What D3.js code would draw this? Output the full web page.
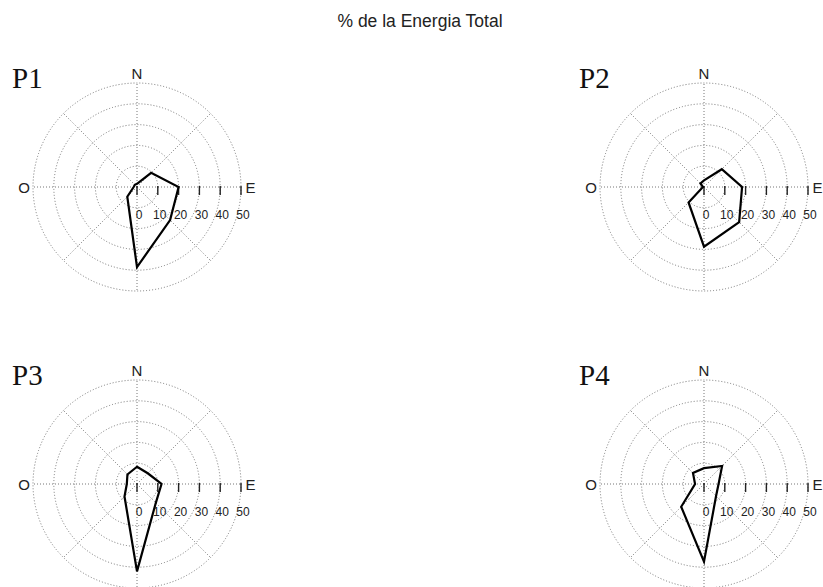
<!DOCTYPE html>
<html>
<head>
<meta charset="utf-8">
<script src="https://cdn.jsdelivr.net/npm/d3@7"></script>
<style>
  body { margin: 0; background: #fff; }
</style>
</head>
<body>
<svg id="chart"></svg>
<script>
// directions clockwise from north
const directions = ["N", "NE", "E", "SE", "S", "SW", "W", "NW"];
const panelNames = ["P1", "P2", "P3", "P4"];
// % of total energy per direction
const p1Values = [1.5, 9.6, 20, 22.5, 38.5, 6.6, 1.6, 1.5];
const p2Values = [3.2, 12.1, 18.3, 23.9, 28.7, 10.5, 0.5, 2.4];
const p3Values = [8.3, 7.3, 11.8, 12.8, 42, 8.5, 4.9, 6.5];
const p4Values = [7.6, 12.3, 7, 8.2, 37.3, 15.5, 4.3, 7.5];
const ringValues = [10, 20, 30, 40, 50];
const tickValues = [0, 10, 20, 30, 40, 50];

const width = 823, height = 587;
const svg = d3.select("#chart").attr("width", width).attr("height", height);

svg.append("text")
  .attr("x", 420)
  .attr("y", 27)
  .attr("text-anchor", "middle")
  .style("font-family", "Liberation Sans, Arial, sans-serif")
  .style("font-size", "17.5px")
  .style("fill", "#222")
  .text("% de la Energia Total");

const r = d3.scaleLinear().domain([0, 50]).range([0, 104]);
const angle = d3.scalePoint().domain(directions).range([0, 2 * Math.PI * 7 / 8]);

const centers = [[137, 187], [704, 187], [137, 484], [704, 484]];
const allValues = [p1Values, p2Values, p3Values, p4Values];

const drawPanel = (name, values, cx, cy) => {
  const g = svg.append("g").attr("transform", `translate(${cx},${cy})`);

  // dotted rings
  g.selectAll("circle.ring")
    .data(ringValues)
    .enter()
    .append("circle")
    .attr("class", "ring")
    .attr("r", (d) => r(d))
    .attr("fill", "none")
    .attr("stroke", "#777")
    .attr("stroke-width", 1)
    .attr("stroke-dasharray", "1,2");

  // dotted spokes
  g.selectAll("line.spoke")
    .data(directions)
    .enter()
    .append("line")
    .attr("class", "spoke")
    .attr("x1", 0)
    .attr("y1", 0)
    .attr("x2", (d) => r(50) * Math.sin(angle(d)))
    .attr("y2", (d) => -r(50) * Math.cos(angle(d)))
    .attr("stroke", "#777")
    .attr("stroke-width", 1)
    .attr("stroke-dasharray", "1,2");

  // radial axis ticks along east
  g.selectAll("line.tick")
    .data(tickValues)
    .enter()
    .append("line")
    .attr("class", "tick")
    .attr("x1", (d) => r(d))
    .attr("x2", (d) => r(d))
    .attr("y1", -1)
    .attr("y2", 8)
    .attr("stroke", "#222")
    .attr("stroke-width", 1.4);

  g.selectAll("text.tick")
    .data(tickValues)
    .enter()
    .append("text")
    .attr("class", "tick")
    .attr("x", (d) => r(d) + 2)
    .attr("y", 32)
    .attr("text-anchor", "middle")
    .style("font-family", "Liberation Sans, Arial, sans-serif")
    .style("font-size", "12px")
    .style("fill", "#222")
    .text((d) => d);

  const labelStyle = (sel) => sel
    .style("font-family", "Liberation Sans, Arial, sans-serif")
    .style("font-size", "15px")
    .style("fill", "#222");

  g.append("text").attr("x", 0).attr("y", -108).attr("text-anchor", "middle").call(labelStyle).text("N");
  g.append("text").attr("x", r(50) + 4.5).attr("y", 6).call(labelStyle).text("E");
  g.append("text").attr("x", -r(50) - 3).attr("y", 6).attr("text-anchor", "end").call(labelStyle).text("O");

  svg.append("text")
    .attr("x", cx - 125)
    .attr("y", cy - 99)
    .style("font-family", "Liberation Serif, Times New Roman, serif")
    .style("font-size", "29px")
    .style("fill", "#111")
    .text(name);

  const line = d3.lineRadial()
    .angle((d, i) => angle(directions[i]))
    .radius((d) => r(d))
    .curve(d3.curveLinearClosed);

  g.append("path")
    .datum(values)
    .attr("d", line)
    .attr("fill", "none")
    .attr("stroke", "#000")
    .attr("stroke-width", 2.2)
    .attr("stroke-linejoin", "miter");
};

panelNames.forEach((name, i) => {
  drawPanel(name, allValues[i], centers[i][0], centers[i][1]);
});
</script>
</body>
</html>
